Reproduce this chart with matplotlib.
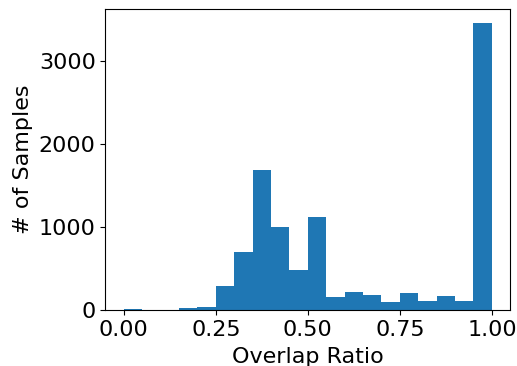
import matplotlib
matplotlib.use('Agg')
import matplotlib.pyplot as plt
import numpy as np

# histogram of overlap ratios, 20 bins on [0, 1]
bin_edges = np.linspace(0, 1, 21)
counts = [12, 0, 0, 24, 36, 286, 700, 1693, 1004, 484,
          1120, 157, 218, 177, 101, 210, 109, 169, 109, 3458]

fig = plt.figure(figsize=(5.17, 3.66), dpi=100)
ax = fig.add_axes([0.204, 0.153, 0.783, 0.822])
ax.hist(bin_edges[:-1], bins=bin_edges, weights=counts, color='#1f77b4')
ax.set_xticks([0.0, 0.25, 0.5, 0.75, 1.0])
ax.set_yticks([0, 1000, 2000, 3000])
ax.tick_params(labelsize=16)
ax.set_xlabel('Overlap Ratio', fontsize=16, labelpad=5)
ax.set_ylabel('# of Samples', fontsize=16, labelpad=4)
fig.savefig('out.png', dpi=100)
plt.close(fig)
